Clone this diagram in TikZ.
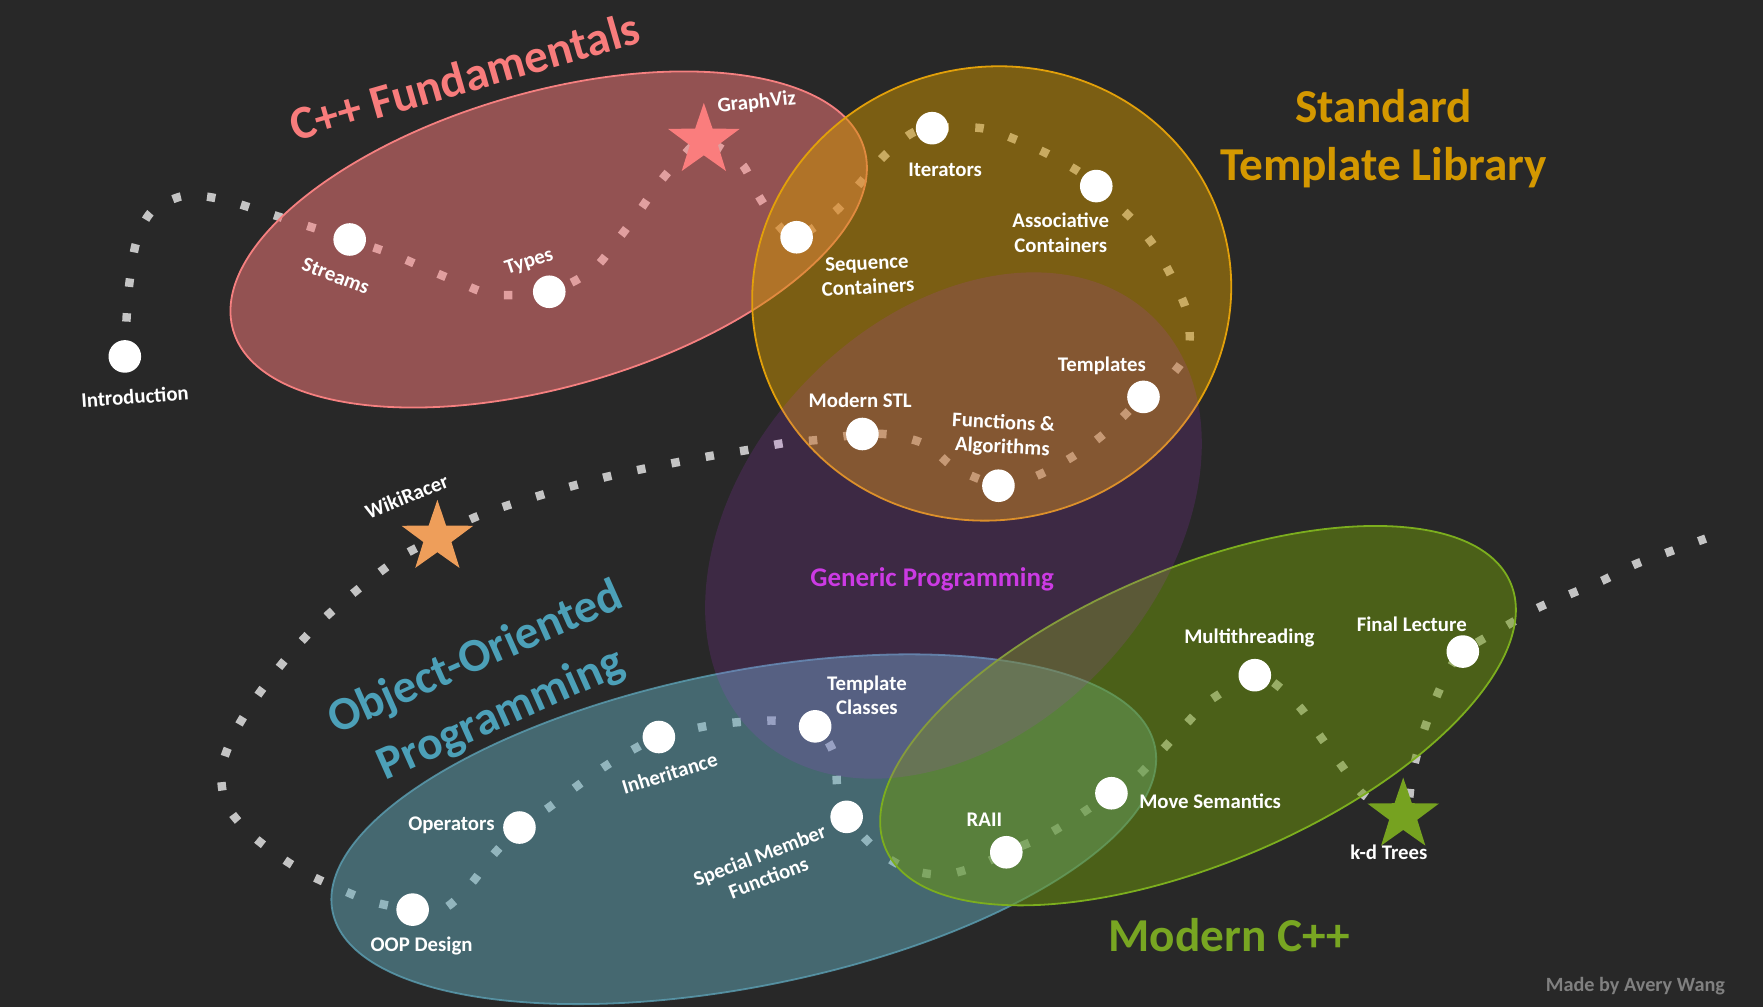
\documentclass[tikz,border=0pt]{standalone}
\usepackage{fontspec}
\setmainfont{Carlito}
\usetikzlibrary{shapes.geometric}
\pgfdeclarelayer{bglayer}
\pgfdeclarelayer{pathlayer}
\pgfdeclarelayer{elllayer}
\pgfsetlayers{bglayer,pathlayer,elllayer,main}
\definecolor{bgc}{RGB}{40,40,40}
\definecolor{pathgray}{RGB}{196,196,196}
\definecolor{cfFill}{RGB}{254,124,124}
\definecolor{cfLine}{RGB}{245,128,128}
\definecolor{stlFill}{RGB}{206,148,0}
\definecolor{stlLine}{RGB}{226,160,10}
\definecolor{oopFill}{RGB}{98,168,184}
\definecolor{oopLine}{RGB}{92,160,180}
\definecolor{grnFill}{RGB}{110,152,10}
\definecolor{grnLine}{RGB}{124,174,30}
\definecolor{purFill}{RGB}{187,53,233}
\definecolor{cfT}{RGB}{248,124,124}
\definecolor{stlT}{RGB}{212,152,0}
\definecolor{genT}{RGB}{204,58,228}
\definecolor{oopT}{RGB}{76,160,184}
\definecolor{mcT}{RGB}{120,166,34}
\definecolor{madeT}{RGB}{128,128,128}
\definecolor{gvStar}{RGB}{250,125,125}
\definecolor{wrStar}{RGB}{238,158,90}
\definecolor{kdStar}{RGB}{118,162,32}
\tikzset{
  dot/.style={circle, fill=white, minimum size=29pt, inner sep=0pt},
  lbl/.style={text=white, font=\bfseries\fontsize{18.5}{21.5}\selectfont, align=center, inner sep=0pt},
  ttl/.style={font=\bfseries\fontsize{42}{52}\selectfont, align=center, inner sep=0pt},
  starnode/.style={star, star points=5, star point ratio=2.55, minimum size=67pt, inner sep=0pt},
  route/.style={draw=pathgray, line width=7.5pt, dash pattern=on 7.5pt off 23.5pt},
  blob/.style={fill opacity=0.5, line width=1.6pt}
}
\begin{document}
\begin{tikzpicture}[x=1pt,y=-1pt]
\begin{pgfonlayer}{bglayer}
\fill[bgc] (0,0) rectangle (1568,896);
\end{pgfonlayer}
\useasboundingbox (0,0) rectangle (1568,896);

% ellipses
\begin{pgfonlayer}{elllayer}
\path[blob, fill=cfFill, draw=cfLine, rotate around={16:(488,213)}] (488,213) ellipse [x radius=292pt, y radius=131pt];
\path[blob, fill=stlFill, draw=stlLine, rotate around={14.6:(882,261)}] (882,261) ellipse [x radius=213.8pt, y radius=201.2pt];
\path[blob, fill=oopFill, draw=oopLine, draw opacity=0.8, rotate around={11.3:(661.5,737.5)}] (661.5,737.5) ellipse [x radius=373pt, y radius=140pt];
\path[blob, fill=grnFill, draw=grnLine, rotate around={23:(1065.5,636.5)}] (1065.5,636.5) ellipse [x radius=302pt, y radius=131pt];
\path[fill=purFill, fill opacity=0.15, rotate around={46.7:(848,467.4)}] (848,467.4) ellipse [x radius=256.6pt, y radius=183.4pt];
\end{pgfonlayer}

% lecture dots
\node[dot] (intro) at (111,317) {};
\node[dot] (streams) at (311,213) {};
\node[dot] (types) at (488.5,259.5) {};
\node[dot] (seq) at (708.5,211) {};
\node[dot] (iter) at (829,114) {};
\node[dot] (assoc) at (975,165.5) {};
\node[dot] (tmpl) at (1017,353) {};
\node[dot] (funcs) at (888,432) {};
\node[dot] (mstl) at (767,386) {};
\node[dot] (tclass) at (725,646) {};
\node[dot] (inher) at (586,655.5) {};
\node[dot] (oper) at (462,736) {};
\node[dot] (oopd) at (367,809) {};
\node[dot] (smf) at (753,726.5) {};
\node[dot] (raii) at (895,758) {};
\node[dot] (move) at (988.5,705.5) {};
\node[dot] (multi) at (1116,600.5) {};
\node[dot] (final) at (1301,579.5) {};

% assignment stars
\node[starnode, fill=gvStar] (graphviz) at (626,125) {};
\node[starnode, fill=wrStar] (wiki) at (389,478) {};
\node[starnode, fill=kdStar] (kd) at (1248,725) {};
\coordinate (pathend) at (1517,479);

% dotted route
\begin{pgfonlayer}{pathlayer}
\draw[route] plot[smooth, tension=0.5] coordinates {
 (intro.center) (114,262) (121,216) (135,188) (164,174) (196,177) (227,186) (258,196)
 (streams.center) (349,226) (379,239) (408,251) (439,262)
 (types.center) (527,240) (548,215) (567,190) (586,163) (607,139)
 (graphviz.center) (659,145) (674,173) (692,200)
 (seq.center) (743,188) (764,164) (786,139) (810,119)
 (iter.center) (873,114) (903,124) (932,137) (960,153)
 (assoc.center) (1008,196) (1028,221) (1044,250) (1056,279) (1057,311) (1039,337)
 (tmpl.center) (990,379) (965,399) (937,416) (908,429)
 (funcs.center) (849,416) (825,396) (795,387)
 (mstl.center) (730,391) (698,394) (666,400) (635,405) (603,411) (572,417) (540,424) (510,432) (479,441) (447,451) (418,462)
 (wiki.center) (360,493) (335,511) (310,531) (285,553) (263,576) (243,600) (224,626) (208,653) (197,684) (201,715) (221,740) (246,760) (273,777) (303,791) (331,802)
 (oopd.center) (395,808) (419,786) (438,761)
 (oper.center) (487,719) (512,700) (539,681) (566,665)
 (inher.center) (627,646) (660,642) (693,641)
 (tclass.center) (742,671) (745,704)
 (smf.center) (780,756) (808,773) (839,778) (870,770)
 (raii.center) (928,744) (955,728)
 (move.center) (1010,692) (1031,670) (1053,646) (1076,623)
 (multi.center) (1134,608) (1157,630) (1175,656) (1194,682) (1213,707)
 (kd.center) (1256,688) (1264,657) (1275,626) (1288,597)
 (final.center) (1339,557) (1367,541) (1395,529) (1426,516) (1454,502) (1484,491)
 (pathend)};
\end{pgfonlayer}

% lecture labels
\node[lbl, rotate=4] (lintro) at (120,352.8) {Introduction};
\node[lbl, rotate=-21] (lstreams) at (298.7,245.5) {Streams};
\node[lbl, rotate=18] (ltypes) at (470.7,233.3) {Types};
\node[lbl, rotate=6] (lgraphviz) at (673,91.3) {GraphViz};
\node[lbl] (liter) at (840.6,150.9) {Iterators};
\node[lbl] (lassoc) at (943.4,207) {Associative\\Containers};
\node[lbl, rotate=3] (lseq) at (771.5,244.6) {Sequence\\Containers};
\node[lbl] (ltmpl) at (980,325.7) {Templates};
\node[lbl] (lmstl) at (765,356) {Modern STL};
\node[lbl, rotate=-3] (lfuncs) at (892,387.3) {Functions \&\\Algorithms};
\node[lbl, rotate=22] (lwiki) at (361.7,441.3) {WikiRacer};
\node[lbl] (ltclass) at (771,618.6) {Template\\Classes};
\node[lbl, rotate=17] (linher) at (595.5,687.7) {Inheritance};
\node[lbl] (loper) at (401.5,734.4) {Operators};
\node[lbl, rotate=21] (lsmf) at (679.5,770.6) {Special Member\\Functions};
\node[lbl] (loopd) at (375,841) {OOP Design};
\node[lbl] (lraii) at (875.5,728.7) {RAII};
\node[lbl] (lmove) at (1076.3,713) {Move Semantics};
\node[lbl] (lmulti) at (1111.2,567.7) {Multithreading};
\node[lbl] (lfinal) at (1255.6,555.3) {Final Lecture};
\node[lbl] (lkd) at (1235.2,758) {k-d Trees};

% group titles
\node[ttl, text=cfT, rotate=16] (tcf) at (413,68) {C++ Fundamentals};
\node[ttl, text=stlT] (tstl) at (1230.5,123.5) {Standard\\Template Library};
\node[ttl, text=genT, font=\bfseries\fontsize{24}{28}\selectfont] (tgen) at (829,515.6) {Generic Programming};
\node[ttl, text=oopT, rotate=24, font=\bfseries\fontsize{42}{54.6}\selectfont] (toop) at (434.5,611) {Object-Oriented\\Programming};
\node[ttl, text=mcT] (tmc) at (1093.2,831.6) {Modern C++};
\node[text=madeT, font=\bfseries\fontsize{18}{21}\selectfont, inner sep=0pt] (made) at (1454.5,876.6) {Made by Avery Wang};
\end{tikzpicture}
\end{document}
